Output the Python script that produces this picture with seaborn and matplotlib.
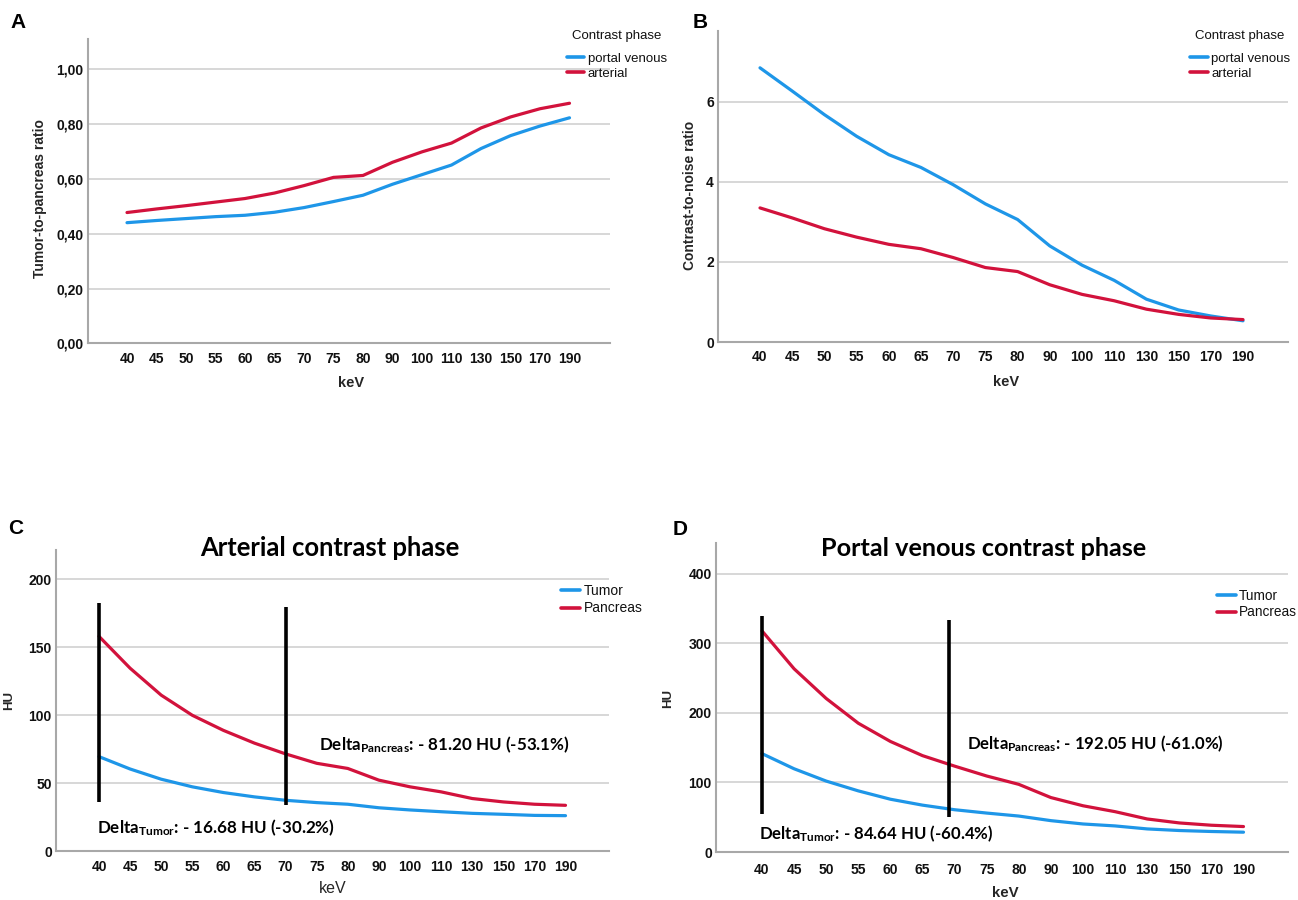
import numpy as np
import pandas as pd
import matplotlib
matplotlib.use("Agg")
import matplotlib.pyplot as plt
import seaborn as sns

# ---------------- data ----------------
kev = [40, 45, 50, 55, 60, 65, 70, 75, 80, 90, 100, 110, 130, 150, 170, 190]
kev_labels = [str(k) for k in kev]

phase_names = ["portal venous", "arterial"]
tpr_portal = [0.440, 0.448, 0.455, 0.462, 0.467, 0.478, 0.495, 0.517, 0.540,
              0.580, 0.615, 0.650, 0.710, 0.757, 0.792, 0.822]
tpr_arterial = [0.477, 0.490, 0.502, 0.515, 0.528, 0.548, 0.575, 0.605, 0.612,
                0.660, 0.698, 0.730, 0.785, 0.825, 0.855, 0.875]

cnr_portal = [6.85, 6.27, 5.68, 5.14, 4.68, 4.36, 3.93, 3.45, 3.06,
              2.40, 1.92, 1.54, 1.07, 0.80, 0.65, 0.53]
cnr_arterial = [3.35, 3.10, 2.83, 2.62, 2.44, 2.33, 2.11, 1.86, 1.76,
                1.43, 1.19, 1.03, 0.82, 0.69, 0.60, 0.56]

tissue_names = ["Tumor", "Pancreas"]
hu_art_tumor = [69.6, 60.5, 53.0, 47.4, 43.2, 40.0, 37.5, 35.8, 34.6,
                32.0, 30.4, 29.1, 27.9, 27.2, 26.4, 26.2]
hu_art_pancreas = [158.0, 134.6, 114.8, 100.0, 88.9, 79.5, 71.6, 64.7, 60.9,
                   52.3, 47.4, 43.7, 38.8, 36.3, 34.6, 33.8]
hu_pv_tumor = [141.5, 119.7, 102.0, 87.9, 75.9, 67.4, 60.8, 56.0, 51.7,
               45.1, 40.3, 37.5, 33.2, 30.9, 29.5, 28.5]
hu_pv_pancreas = [318.0, 263.5, 220.8, 185.2, 159.0, 138.6, 123.5, 109.3, 97.3,
                  78.3, 66.5, 58.0, 47.5, 41.8, 38.5, 36.6]

a_yticks = [0.0, 0.2, 0.4, 0.6, 0.8, 1.0]
a_yticklabels = ["0,00", "0,20", "0,40", "0,60", "0,80", "1,00"]
b_yticks = [0, 2, 4, 6]
c_yticks = [0, 50, 100, 150, 200]
d_yticks = [0, 100, 200, 300, 400]

# delta bars (category position, HU from, HU to)
art_bar_x = [0, 6]
art_bar_lo = [36.5, 34.0]
art_bar_hi = [182.8, 179.9]
pv_bar_x = [0, 5.81]
pv_bar_lo = [54.6, 49.9]
pv_bar_hi = [339.7, 334.0]

art_delta_pancreas = "Delta$_{Pancreas}$: - 81.20 HU (-53.1%)"
art_delta_tumor = "Delta$_{Tumor}$: - 16.68 HU (-30.2%)"
pv_delta_pancreas = "Delta$_{Pancreas}$: - 192.05 HU (-61.0%)"
pv_delta_tumor = "Delta$_{Tumor}$: - 84.64 HU (-60.4%)"

# ---------------- style ----------------
sns.set_theme(style="white")
plt.rcParams["font.family"] = ["Liberation Sans", "DejaVu Sans"]
plt.rcParams["mathtext.default"] = "regular"

TICK_FAMILY = ["Liberation Sans Narrow", "Liberation Sans", "DejaVu Sans"]
BLUE = "#1E96E8"
RED = "#D2123C"
GRID = "#d4d4d4"
SPINE = "#a8a8a8"

W, H = 1298, 900
fig = plt.figure(figsize=(W / 100, H / 100), dpi=100)
fig.patch.set_facecolor("white")


def frac_rect(l, r, t, b):
    return [l / W, 1 - b / H, (r - l) / W, (b - t) / H]


def long_df(names, series):
    pos = np.arange(len(kev))
    return pd.DataFrame({
        "pos": np.concatenate([pos] * len(series)),
        "value": np.concatenate([np.asarray(s, float) for s in series]),
        "group": np.repeat(names, len(kev)),
    })


def style_axes(ax, box, x40, step, ylim, yticks, yticklabels=None, xpad=6, ypad=3):
    l, r, t, b = box
    ax.set_xlim((l - x40) / step, (r - x40) / step)
    ax.set_ylim(*ylim)
    ax.set_xticks(np.arange(len(kev)))
    ax.set_xticklabels(kev_labels, fontsize=10, fontweight="bold", color="#111111",
                       family=TICK_FAMILY)
    ax.set_yticks(yticks)
    ax.set_yticklabels(yticklabels if yticklabels else [str(v) for v in yticks],
                       fontsize=10, fontweight="bold", color="#111111",
                       family=TICK_FAMILY)
    ax.tick_params(axis="x", length=0, pad=xpad)
    ax.tick_params(axis="y", length=0, pad=ypad)
    ax.grid(axis="y", color=GRID, lw=1.3)
    ax.grid(axis="x", visible=False)
    ax.set_axisbelow(True)
    for s in ["top", "right"]:
        ax.spines[s].set_visible(False)
    for s in ["left", "bottom"]:
        ax.spines[s].set_color(SPINE)
        ax.spines[s].set_linewidth(1.5)
    ax.set_facecolor("white")


def place(label, box, x, y):
    l, r, t, b = box
    label.set_verticalalignment("center")
    label.set_horizontalalignment("center")
    return ((x - l) / (r - l), (b - y) / (b - t))


def add_legend(ax, handles, labels, x, y, fs, spacing):
    leg = ax.legend(handles, labels, loc="upper left",
                    bbox_to_anchor=(x / W, 1 - y / H), bbox_transform=fig.transFigure,
                    frameon=False, borderpad=0, borderaxespad=0, handlelength=1.35,
                    handletextpad=0.25, labelspacing=spacing, fontsize=fs)
    for txt in leg.get_texts():
        txt.set_color("#111111")
    for ln in leg.get_lines():
        ln.set_linewidth(2.6)
    return leg


# ---------------- panel A ----------------
boxA = (87.7, 610, 39, 343.5)
axA = fig.add_axes(frac_rect(*boxA))
sns.lineplot(data=long_df(phase_names, [tpr_portal, tpr_arterial]), x="pos", y="value",
             hue="group", hue_order=phase_names, palette=[BLUE, RED], lw=2.3,
             ax=axA)
style_axes(axA, boxA, 127, 29.5, (0, 1.109), a_yticks, a_yticklabels, xpad=6)
axA.set_xlabel("keV", fontsize=10.5, fontweight="bold")
axA.xaxis.set_label_coords(*place(axA.xaxis.label, boxA, 350.6, 382.7))
axA.set_ylabel("Tumor-to-pancreas ratio", fontsize=10, fontweight="bold")
axA.yaxis.set_label_coords(*place(axA.yaxis.label, boxA, 40, 199))
h, lab = axA.get_legend_handles_labels()
add_legend(axA, h, lab, 566.5, 52.5, 9.5, 0.22)
fig.text(617 / W, 1 - 36 / H, "Contrast phase", ha="center", va="center",
         fontsize=9.5, color="#111111")

# ---------------- panel B ----------------
boxB = (718, 1288, 31, 342)
axB = fig.add_axes(frac_rect(*boxB))
sns.lineplot(data=long_df(phase_names, [cnr_portal, cnr_arterial]), x="pos", y="value",
             hue="group", hue_order=phase_names, palette=[BLUE, RED], lw=2.3,
             ax=axB)
style_axes(axB, boxB, 760, 32.2, (0, 7.77), b_yticks, xpad=6)
axB.set_xlabel("keV", fontsize=10.5, fontweight="bold")
axB.xaxis.set_label_coords(*place(axB.xaxis.label, boxB, 1006, 381.7))
axB.set_ylabel("Contrast-to-noise ratio", fontsize=10, fontweight="bold")
axB.yaxis.set_label_coords(*place(axB.yaxis.label, boxB, 689.6, 195))
h, lab = axB.get_legend_handles_labels()
add_legend(axB, h, lab, 1190, 52.5, 9.5, 0.22)
fig.text(1240 / W, 1 - 36 / H, "Contrast phase", ha="center", va="center",
         fontsize=9.5, color="#111111")

# ---------------- panel C ----------------
boxC = (56, 609, 550, 851.3)
axC = fig.add_axes(frac_rect(*boxC))
sns.lineplot(data=long_df(tissue_names, [hu_art_tumor, hu_art_pancreas]), x="pos",
             y="value", hue="group", hue_order=tissue_names, palette=[BLUE, RED],
             lw=2.3, ax=axC)
style_axes(axC, boxC, 99, 31.1, (0, 221.5), c_yticks, xpad=6)
axC.vlines(art_bar_x, art_bar_lo, art_bar_hi, color="black", lw=2.6, zorder=5)
axC.set_xlabel("keV", fontsize=11.5, fontweight="normal")
axC.xaxis.set_label_coords(*place(axC.xaxis.label, boxC, 332.6, 888.3))
axC.set_ylabel("HU", fontsize=9.5, fontweight="bold")
axC.yaxis.set_label_coords(*place(axC.yaxis.label, boxC, 9.3, 700))
h, lab = axC.get_legend_handles_labels()
add_legend(axC, h, lab, 561.4, 584, 10, 0.25)

# ---------------- panel D ----------------
boxD = (716, 1288, 543.3, 852)
axD = fig.add_axes(frac_rect(*boxD))
sns.lineplot(data=long_df(tissue_names, [hu_pv_tumor, hu_pv_pancreas]), x="pos",
             y="value", hue="group", hue_order=tissue_names, palette=[BLUE, RED],
             lw=2.3, ax=axD)
style_axes(axD, boxD, 762, 32.1, (0, 444), d_yticks, xpad=8)
axD.vlines(pv_bar_x, pv_bar_lo, pv_bar_hi, color="black", lw=2.6, zorder=5)
axD.set_xlabel("keV", fontsize=10.8, fontweight="bold")
axD.xaxis.set_label_coords(*place(axD.xaxis.label, boxD, 1005, 893.3))
axD.set_ylabel("HU", fontsize=9.5, fontweight="bold")
axD.yaxis.set_label_coords(*place(axD.yaxis.label, boxD, 668.5, 698))
h, lab = axD.get_legend_handles_labels()
add_legend(axD, h, lab, 1217.2, 588.5, 9.8, 0.22)

# ---------------- annotation texts ----------------
renderer = fig.canvas.get_renderer()


def fit(t, target):
    for _ in range(4):
        w = t.get_window_extent(renderer).width
        t.set_fontsize(t.get_fontsize() * target / w)
    return t


ann_kw = dict(fontweight="bold", family=["Lato", "DejaVu Sans"], color="black",
              ha="left", va="center", zorder=6)
fit(axC.text(7.06, 78.2, art_delta_pancreas, fontsize=14, **ann_kw), 251)
fit(axC.text(-0.06, 17.6, art_delta_tumor, fontsize=14, **ann_kw), 238.6)
fit(axD.text(6.4, 155.8, pv_delta_pancreas, fontsize=14, **ann_kw), 257)
fit(axD.text(-0.1, 26.1, pv_delta_tumor, fontsize=14, **ann_kw), 235)

title_kw = dict(fontweight="bold", family=["Lato", "DejaVu Sans"], color="black",
                ha="center", va="center")
fit(fig.text(330 / W, 1 - 548 / H, "Arterial contrast phase", fontsize=18, **title_kw), 259)
fit(fig.text(983.5 / W, 1 - 549 / H, "Portal venous contrast phase", fontsize=18,
             **title_kw), 326)

# ---------------- panel letters ----------------
letter_kw = dict(fontsize=15, fontweight="bold", color="black", ha="center", va="center")
fig.text(18 / W, 1 - 23 / H, "A", **letter_kw)
fig.text(700 / W, 1 - 23 / H, "B", **letter_kw)
fig.text(15.8 / W, 1 - 528 / H, "C", **letter_kw)
fig.text(679.7 / W, 1 - 529.5 / H, "D", **letter_kw)

fig.savefig("out.png", dpi=100, facecolor="white")
